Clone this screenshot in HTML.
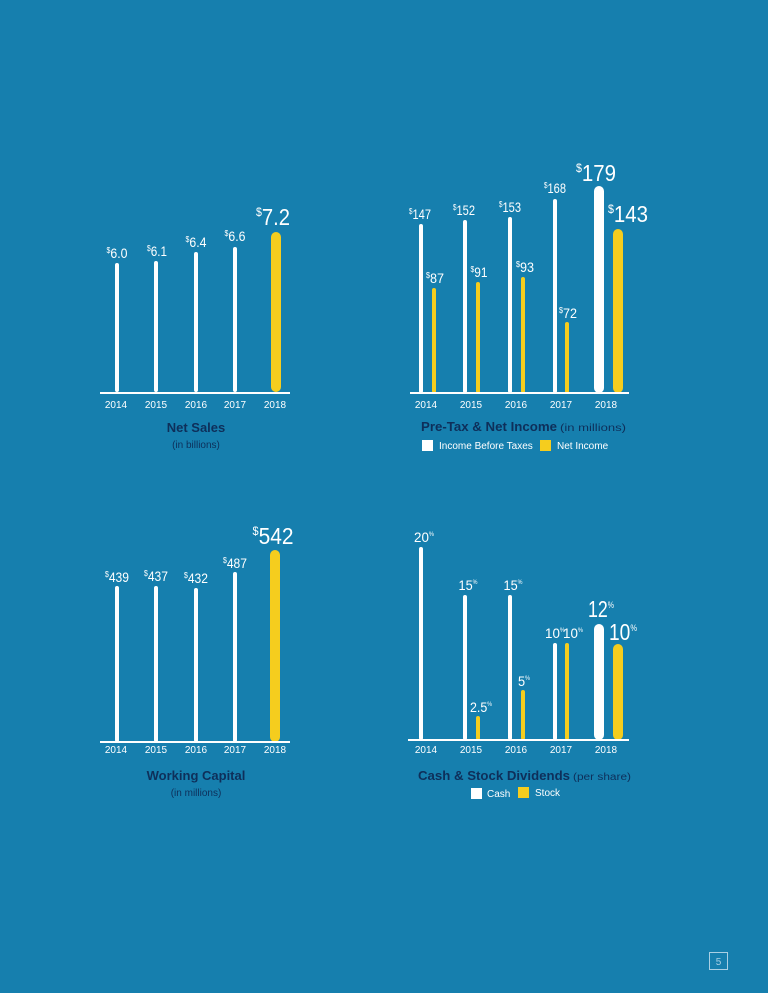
<!DOCTYPE html>
<html><head><meta charset="utf-8"><style>
html,body{margin:0;padding:0;background:#167fae;}
svg{display:block}
.v{font-family:"Liberation Sans",sans-serif;fill:#fff;text-anchor:middle}
.y{font-family:"Liberation Sans",sans-serif;fill:#fff;font-size:10px;text-anchor:middle}
.t{font-family:"Liberation Sans",sans-serif;fill:#0e2f5a;font-size:13px;font-weight:bold;text-anchor:middle}
.s{font-family:"Liberation Sans",sans-serif;fill:#0e2f5a;font-size:10px;text-anchor:middle}
.l{font-family:"Liberation Sans",sans-serif;fill:#fff;font-size:10px}
</style></head><body>
<svg width="768" height="993" viewBox="0 0 768 993" xmlns="http://www.w3.org/2000/svg">
<rect width="768" height="993" fill="#167fae"/>
<!-- Chart 1 Net Sales -->
<g>
<rect x="115" y="263" width="4" height="129" rx="2" fill="#fff"/>
<rect x="154" y="261" width="4" height="131" rx="2" fill="#fff"/>
<rect x="194" y="252" width="4" height="140" rx="2" fill="#fff"/>
<rect x="233" y="247" width="4" height="145" rx="2" fill="#fff"/>
<rect x="271" y="232" width="10" height="160" rx="5" fill="#f5cd1e"/>
<line x1="100" y1="393" x2="290" y2="393" stroke="#fff" stroke-width="2"/>
<text class="v" x="117" y="258" font-size="14" textLength="21" lengthAdjust="spacingAndGlyphs"><tspan font-size="8" dy="-5">$</tspan><tspan dy="5">6.0</tspan></text>
<text class="v" x="157" y="256" font-size="14" textLength="20" lengthAdjust="spacingAndGlyphs"><tspan font-size="8" dy="-5">$</tspan><tspan dy="5">6.1</tspan></text>
<text class="v" x="196" y="247" font-size="14" textLength="21" lengthAdjust="spacingAndGlyphs"><tspan font-size="8" dy="-5">$</tspan><tspan dy="5">6.4</tspan></text>
<text class="v" x="235" y="241" font-size="14" textLength="21" lengthAdjust="spacingAndGlyphs"><tspan font-size="8" dy="-5">$</tspan><tspan dy="5">6.6</tspan></text>
<text class="v" x="273" y="225" font-size="23" textLength="34" lengthAdjust="spacingAndGlyphs"><tspan font-size="12" dy="-9">$</tspan><tspan dy="9">7.2</tspan></text>
<text class="y" x="116" y="408">2014</text><text class="y" x="156" y="408">2015</text><text class="y" x="196" y="408">2016</text><text class="y" x="235" y="408">2017</text><text class="y" x="275" y="408">2018</text>
<text class="t" x="196" y="432">Net Sales</text>
<text class="s" x="196" y="448">(in billions)</text>
</g>
<!-- Chart 2 -->
<g>
<rect x="419" y="224" width="4" height="169" rx="2" fill="#fff"/>
<rect x="432" y="288" width="4" height="105" rx="2" fill="#f5cd1e"/>
<rect x="463" y="220" width="4" height="173" rx="2" fill="#fff"/>
<rect x="476" y="282" width="4" height="111" rx="2" fill="#f5cd1e"/>
<rect x="508" y="217" width="4" height="176" rx="2" fill="#fff"/>
<rect x="521" y="277" width="4" height="116" rx="2" fill="#f5cd1e"/>
<rect x="553" y="199" width="4" height="194" rx="2" fill="#fff"/>
<rect x="565" y="322" width="4" height="71" rx="2" fill="#f5cd1e"/>
<rect x="594" y="186" width="10" height="207" rx="5" fill="#fff"/>
<rect x="613" y="229" width="10" height="164" rx="5" fill="#f5cd1e"/>
<line x1="410" y1="393" x2="629" y2="393" stroke="#fff" stroke-width="2"/>
<text class="v" x="420" y="219" font-size="14" textLength="22" lengthAdjust="spacingAndGlyphs"><tspan font-size="8" dy="-5">$</tspan><tspan dy="5">147</tspan></text>
<text class="v" x="435" y="283" font-size="14" textLength="18" lengthAdjust="spacingAndGlyphs"><tspan font-size="8" dy="-5">$</tspan><tspan dy="5">87</tspan></text>
<text class="v" x="464" y="215" font-size="14" textLength="22" lengthAdjust="spacingAndGlyphs"><tspan font-size="8" dy="-5">$</tspan><tspan dy="5">152</tspan></text>
<text class="v" x="479" y="277" font-size="14" textLength="17" lengthAdjust="spacingAndGlyphs"><tspan font-size="8" dy="-5">$</tspan><tspan dy="5">91</tspan></text>
<text class="v" x="510" y="212" font-size="14" textLength="22" lengthAdjust="spacingAndGlyphs"><tspan font-size="8" dy="-5">$</tspan><tspan dy="5">153</tspan></text>
<text class="v" x="525" y="272" font-size="14" textLength="18" lengthAdjust="spacingAndGlyphs"><tspan font-size="8" dy="-5">$</tspan><tspan dy="5">93</tspan></text>
<text class="v" x="555" y="193" font-size="14" textLength="22" lengthAdjust="spacingAndGlyphs"><tspan font-size="8" dy="-5">$</tspan><tspan dy="5">168</tspan></text>
<text class="v" x="568" y="318" font-size="14" textLength="18" lengthAdjust="spacingAndGlyphs"><tspan font-size="8" dy="-5">$</tspan><tspan dy="5">72</tspan></text>
<text class="v" x="596" y="181" font-size="23" textLength="40" lengthAdjust="spacingAndGlyphs"><tspan font-size="12" dy="-9">$</tspan><tspan dy="9">179</tspan></text>
<text class="v" x="628" y="222" font-size="23" textLength="40" lengthAdjust="spacingAndGlyphs"><tspan font-size="12" dy="-9">$</tspan><tspan dy="9">143</tspan></text>
<text class="y" x="426" y="408">2014</text><text class="y" x="471" y="408">2015</text><text class="y" x="516" y="408">2016</text><text class="y" x="561" y="408">2017</text><text class="y" x="606" y="408">2018</text>
<text class="t" x="489" y="431" textLength="136" lengthAdjust="spacingAndGlyphs">Pre-Tax &amp; Net Income</text>
<text class="s" x="593" y="431" textLength="66" lengthAdjust="spacingAndGlyphs">(in millions)</text>
<rect x="422" y="440" width="11" height="11" fill="#fff"/>
<text class="l" x="439" y="449">Income Before Taxes</text>
<rect x="540" y="440" width="11" height="11" fill="#f5cd1e"/>
<text class="l" x="557" y="449">Net Income</text>
</g>
<!-- Chart 3 -->
<g>
<rect x="115" y="586" width="4" height="156" rx="2" fill="#fff"/>
<rect x="154" y="586" width="4" height="156" rx="2" fill="#fff"/>
<rect x="194" y="588" width="4" height="154" rx="2" fill="#fff"/>
<rect x="233" y="572" width="4" height="170" rx="2" fill="#fff"/>
<rect x="270" y="550" width="10" height="192" rx="5" fill="#f5cd1e"/>
<line x1="100" y1="742" x2="290" y2="742" stroke="#fff" stroke-width="2"/>
<text class="v" x="117" y="582" font-size="14" textLength="24" lengthAdjust="spacingAndGlyphs"><tspan font-size="8" dy="-5">$</tspan><tspan dy="5">439</tspan></text>
<text class="v" x="156" y="581" font-size="14" textLength="24" lengthAdjust="spacingAndGlyphs"><tspan font-size="8" dy="-5">$</tspan><tspan dy="5">437</tspan></text>
<text class="v" x="196" y="583" font-size="14" textLength="24" lengthAdjust="spacingAndGlyphs"><tspan font-size="8" dy="-5">$</tspan><tspan dy="5">432</tspan></text>
<text class="v" x="235" y="568" font-size="14" textLength="24" lengthAdjust="spacingAndGlyphs"><tspan font-size="8" dy="-5">$</tspan><tspan dy="5">487</tspan></text>
<text class="v" x="273" y="544" font-size="23" textLength="41" lengthAdjust="spacingAndGlyphs"><tspan font-size="12" dy="-9">$</tspan><tspan dy="9">542</tspan></text>
<text class="y" x="116" y="753">2014</text><text class="y" x="156" y="753">2015</text><text class="y" x="196" y="753">2016</text><text class="y" x="235" y="753">2017</text><text class="y" x="275" y="753">2018</text>
<text class="t" x="196" y="780">Working Capital</text>
<text class="s" x="196" y="796">(in millions)</text>
</g>
<!-- Chart 4 -->
<g>
<rect x="419" y="547" width="4" height="193" rx="2" fill="#fff"/>
<rect x="463" y="595" width="4" height="145" rx="2" fill="#fff"/>
<rect x="476" y="716" width="4" height="24" rx="2" fill="#f5cd1e"/>
<rect x="508" y="595" width="4" height="145" rx="2" fill="#fff"/>
<rect x="521" y="690" width="4" height="50" rx="2" fill="#f5cd1e"/>
<rect x="553" y="643" width="4" height="97" rx="2" fill="#fff"/>
<rect x="565" y="643" width="4" height="97" rx="2" fill="#f5cd1e"/>
<rect x="594" y="624" width="10" height="116" rx="5" fill="#fff"/>
<rect x="613" y="644" width="10" height="96" rx="5" fill="#f5cd1e"/>
<line x1="408" y1="740" x2="629" y2="740" stroke="#fff" stroke-width="2"/>
<text class="v" x="424" y="542" font-size="14" textLength="20" lengthAdjust="spacingAndGlyphs">20<tspan font-size="6" dy="-6">%</tspan></text>
<text class="v" x="468" y="590" font-size="14" textLength="19" lengthAdjust="spacingAndGlyphs">15<tspan font-size="6" dy="-6">%</tspan></text>
<text class="v" x="481" y="712" font-size="14" textLength="22" lengthAdjust="spacingAndGlyphs">2.5<tspan font-size="6" dy="-6">%</tspan></text>
<text class="v" x="513" y="590" font-size="14" textLength="19" lengthAdjust="spacingAndGlyphs">15<tspan font-size="6" dy="-6">%</tspan></text>
<text class="v" x="524" y="686" font-size="14" textLength="12" lengthAdjust="spacingAndGlyphs">5<tspan font-size="6" dy="-6">%</tspan></text>
<text class="v" x="555" y="638" font-size="14" textLength="20" lengthAdjust="spacingAndGlyphs">10<tspan font-size="6" dy="-6">%</tspan></text>
<text class="v" x="573" y="638" font-size="14" textLength="20" lengthAdjust="spacingAndGlyphs">10<tspan font-size="6" dy="-6">%</tspan></text>
<text class="v" x="601" y="617" font-size="23" textLength="26" lengthAdjust="spacingAndGlyphs">12<tspan font-size="9" dy="-9">%</tspan></text>
<text class="v" x="623" y="640" font-size="23" textLength="28" lengthAdjust="spacingAndGlyphs">10<tspan font-size="9" dy="-9">%</tspan></text>
<text class="y" x="426" y="753">2014</text><text class="y" x="471" y="753">2015</text><text class="y" x="516" y="753">2016</text><text class="y" x="561" y="753">2017</text><text class="y" x="606" y="753">2018</text>
<text class="t" x="494" y="780" textLength="152" lengthAdjust="spacingAndGlyphs">Cash &amp; Stock Dividends</text>
<text class="s" x="602" y="780" textLength="58" lengthAdjust="spacingAndGlyphs">(per share)</text>
<rect x="471" y="788" width="11" height="11" fill="#fff"/>
<text class="l" x="487" y="797">Cash</text>
<rect x="518" y="787" width="11" height="11" fill="#f5cd1e"/>
<text class="l" x="535" y="796">Stock</text>
</g>
<rect x="709.5" y="952.5" width="18" height="17" fill="none" stroke="#a9d0e4" stroke-width="1"/>
<text x="718.5" y="965" font-family="Liberation Sans, sans-serif" font-size="10" fill="#a9d0e4" text-anchor="middle">5</text>
</svg>
</body></html>
